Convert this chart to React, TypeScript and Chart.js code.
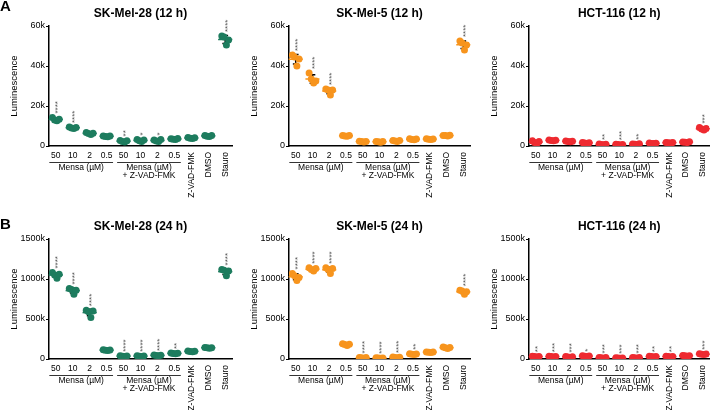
import React, { useEffect, useRef } from 'react';
import { Chart, registerables } from 'chart.js';

Chart.register(...registerables);

const FONT = "'Liberation Sans', Arial, Helvetica, sans-serif";

// ---------- categories & labels ----------
const categories = ['50', '10', '2', '0.5', '50', '10', '2', '0.5', 'Z-VAD-FMK', 'DMSO', 'Stauro'];
const groupLabels = ['Mensa (µM)', 'Mensa (µM)'];
const groupSubLabels = ['', '+ Z-VAD-FMK'];
const groupRanges = [[0, 3], [4, 7]];
const firstRotated = 8;
const yAxisTitle = 'Luminescence';

const yTicks12h = [0, 20000, 40000, 60000];
const yTickLabels12h = ['0', '20k', '40k', '60k'];
const yTicks24h = [0, 500000, 1000000, 1500000];
const yTickLabels24h = ['0', '500k', '1000k', '1500k'];

// ---------- replicate values (per category) ----------
const skMel28_12h = [
  [14200, 13000, 12600, 13400],
  [9500, 9000, 8800, 9200],
  [6800, 6200, 5800, 6400],
  [5000, 4800, 4600, 5000],
  [2800, 2200, 2000, 2600],
  [3200, 2600, 2300, 3000],
  [3000, 2500, 2200, 3300],
  [3600, 3400, 3300, 3700],
  [4200, 3900, 3800, 4100],
  [5300, 4900, 4700, 5200],
  [55000, 54500, 50500, 53000],
];
const skMel28_12h_stars = ['****', '****', '', '', '**', '*', '*', '', '', '', '****'];

const skMel5_12h = [
  [45500, 44500, 40000, 43500],
  [36500, 33500, 31500, 32500],
  [28500, 28000, 25500, 28000],
  [5300, 5000, 4900, 5200],
  [2400, 2200, 2000, 2300],
  [2300, 2100, 1900, 2200],
  [2700, 2500, 2300, 2800],
  [3600, 3300, 3100, 3500],
  [3600, 3400, 3200, 3500],
  [5300, 5200, 5000, 5400],
  [52500, 51500, 48000, 50500],
];
const skMel5_12h_stars = ['****', '****', '****', '', '', '', '', '', '', '', '****'];

const hct116_12h = [
  [2600, 1800, 1200, 2200],
  [3000, 2800, 2600, 2900],
  [2500, 2300, 2100, 2400],
  [1700, 1500, 1300, 1600],
  [1000, 800, 600, 900],
  [900, 700, 500, 800],
  [1000, 900, 700, 1100],
  [1500, 1300, 1200, 1400],
  [1800, 1600, 1500, 1700],
  [2000, 1900, 1700, 2100],
  [9200, 8500, 8000, 8800],
];
const hct116_12h_stars = ['', '', '', '', '**', '***', '**', '', '', '', '***'];

const skMel28_24h = [
  [1080000, 1050000, 1010000, 1060000],
  [880000, 870000, 810000, 860000],
  [610000, 590000, 520000, 600000],
  [115000, 110000, 105000, 112000],
  [40000, 35000, 30000, 38000],
  [40000, 35000, 30000, 38000],
  [50000, 45000, 40000, 48000],
  [75000, 70000, 65000, 72000],
  [100000, 95000, 90000, 97000],
  [145000, 140000, 135000, 142000],
  [1120000, 1110000, 1040000, 1100000],
];
const skMel28_24h_stars = ['****', '****', '****', '', '****', '****', '****', '**', '', '', '****'];

const skMel5_24h = [
  [1070000, 1040000, 980000, 1020000],
  [1140000, 1120000, 1100000, 1130000],
  [1140000, 1120000, 1070000, 1130000],
  [190000, 180000, 170000, 185000],
  [20000, 15000, 10000, 18000],
  [15000, 12000, 8000, 14000],
  [25000, 20000, 15000, 22000],
  [65000, 60000, 55000, 62000],
  [88000, 85000, 82000, 86000],
  [150000, 140000, 130000, 145000],
  [860000, 850000, 810000, 840000],
];
const skMel5_24h_stars = ['****', '****', '****', '', '****', '****', '****', '**', '', '', '****'];

const hct116_24h = [
  [35000, 30000, 25000, 32000],
  [35000, 30000, 25000, 32000],
  [30000, 25000, 20000, 28000],
  [40000, 35000, 30000, 38000],
  [20000, 15000, 10000, 18000],
  [15000, 12000, 8000, 14000],
  [20000, 15000, 10000, 18000],
  [35000, 30000, 25000, 32000],
  [35000, 30000, 25000, 32000],
  [45000, 40000, 35000, 42000],
  [65000, 60000, 55000, 62000],
];
const hct116_24h_stars = ['**', '***', '***', '*', '***', '***', '***', '**', '**', '', '***'];

// ---------- styling ----------
const GREEN = '#1d7c5e';
const ORANGE = '#f7941d';
const RED = '#ee2a30';
const JITTER = [-0.2, -0.07, 0.07, 0.2];

const mean = (a: number[]) => a.reduce((s, v) => s + v, 0) / a.length;
const stdev = (a: number[]) => {
  const m = mean(a);
  return Math.sqrt(a.reduce((s, v) => s + (v - m) * (v - m), 0) / (a.length - 1));
};

type PanelProps = {
  title: string;
  values: number[][];
  stars: string[];
  color: string;
  yTicks: number[];
  yTickLabels: string[];
  letter?: string;
  letterY?: number;
  left: number;
  top: number;
  width: number;
  height: number;
  padTop: number;
  padBottom: number;
  padRight: number;
};

function Panel(p: PanelProps) {
  const ref = useRef<HTMLCanvasElement>(null);
  useEffect(() => {
    const canvas = ref.current!;
    const points: { x: number; y: number }[] = [];
    p.values.forEach((reps, i) => reps.forEach((v, j) => points.push({ x: i + JITTER[j % JITTER.length], y: v })));

    const decor = {
      id: 'decor',
      beforeDatasetsDraw(chart: any) {
        const ctx = chart.ctx;
        const xs = chart.scales.x;
        const ys = chart.scales.y;
        const u = xs.getPixelForValue(1) - xs.getPixelForValue(0);
        p.values.forEach((reps, i) => {
          const m = mean(reps);
          const sd = stdev(reps);
          const cx = xs.getPixelForValue(i);
          const ym = ys.getPixelForValue(m);
          const yHi = ys.getPixelForValue(m + sd);
          const yLo = ys.getPixelForValue(Math.max(0, m - sd));
          ctx.save();
          ctx.lineWidth = 1.5;
          ctx.strokeStyle = p.color;
          ctx.beginPath();
          ctx.moveTo(cx - 0.42 * u, ym);
          ctx.lineTo(cx + 0.42 * u, ym);
          ctx.stroke();
          ctx.strokeStyle = '#000';
          ctx.beginPath();
          ctx.moveTo(cx, yHi);
          ctx.lineTo(cx, yLo);
          ctx.moveTo(cx - 0.17 * u, yHi);
          ctx.lineTo(cx + 0.17 * u, yHi);
          ctx.moveTo(cx - 0.17 * u, yLo);
          ctx.lineTo(cx + 0.17 * u, yLo);
          ctx.stroke();
          ctx.restore();
        });
      },
      afterDraw(chart: any) {
        const ctx = chart.ctx;
        const xs = chart.scales.x;
        const ys = chart.scales.y;
        const area = chart.chartArea;
        const u = xs.getPixelForValue(1) - xs.getPixelForValue(0);
        ctx.save();
        ctx.fillStyle = '#000';
        ctx.strokeStyle = '#000';

        // stars
        p.values.forEach((reps, i) => {
          const s = p.stars[i];
          if (!s) return;
          const m = mean(reps);
          const sd = stdev(reps);
          const topVal = Math.max(Math.max(...reps), m + sd);
          const yTop = Math.min(ys.getPixelForValue(topVal) - 3, ys.getPixelForValue(Math.max(...reps)) - 4);
          const cx = xs.getPixelForValue(i);
          const fs = 8;
          ctx.save();
          ctx.fillStyle = '#555';
          ctx.font = `${fs}px ${FONT}`;
          ctx.translate(cx, yTop);
          ctx.rotate(-Math.PI / 2);
          ctx.textAlign = 'left';
          ctx.textBaseline = 'alphabetic';
          ctx.fillText(s, 0, fs * 0.58);
          ctx.restore();
        });

        // title
        ctx.font = `bold 12px ${FONT}`;
        ctx.textAlign = 'center';
        ctx.textBaseline = 'middle';
        ctx.fillText(p.title, (area.left + area.right) / 2, area.top - 12);

        // panel letter
        if (p.letter) {
          ctx.font = `bold 15px ${FONT}`;
          ctx.textAlign = 'left';
          ctx.textBaseline = 'top';
          ctx.fillText(p.letter, 0, p.letterY ?? 0);
        }

        // y axis title
        ctx.save();
        ctx.font = `9.5px ${FONT}`;
        ctx.translate(area.left - 35, (area.top + area.bottom) / 2);
        ctx.rotate(-Math.PI / 2);
        ctx.textAlign = 'center';
        ctx.textBaseline = 'middle';
        ctx.fillText(yAxisTitle, 0, 0);
        ctx.restore();

        // x category labels
        const b = area.bottom;
        ctx.font = `8.5px ${FONT}`;
        categories.forEach((c, i) => {
          const cx = xs.getPixelForValue(i);
          if (i < firstRotated) {
            ctx.textAlign = 'center';
            ctx.textBaseline = 'middle';
            ctx.fillText(c, cx, b + 10);
          } else {
            ctx.save();
            ctx.translate(cx, b + 6);
            ctx.rotate(-Math.PI / 2);
            ctx.textAlign = 'right';
            ctx.textBaseline = 'middle';
            ctx.fillText(c, 0, 0);
            ctx.restore();
          }
        });

        // group brackets
        groupRanges.forEach((r, g) => {
          const x0 = xs.getPixelForValue(r[0]) - 0.38 * u;
          const x1 = xs.getPixelForValue(r[1]) + 0.38 * u;
          ctx.lineWidth = 0.8;
          ctx.beginPath();
          ctx.moveTo(x0, b + 16.5);
          ctx.lineTo(x1, b + 16.5);
          ctx.stroke();
          const mid = (x0 + x1) / 2;
          ctx.textAlign = 'center';
          ctx.textBaseline = 'middle';
          ctx.fillText(groupLabels[g], mid, b + 21.5);
          if (groupSubLabels[g]) ctx.fillText(groupSubLabels[g], mid, b + 29.5);
        });
        ctx.restore();
      },
    };

    const chart = new Chart(canvas, {
      type: 'scatter',
      data: {
        datasets: [
          {
            data: points,
            backgroundColor: p.color,
            borderColor: p.color,
            borderWidth: 0,
            pointRadius: 3.5,
            pointHoverRadius: 3.5,
          },
        ],
      },
      options: {
        animation: false,
        responsive: false,
        devicePixelRatio: 1,
        events: [],
        layout: { padding: { top: p.padTop, bottom: p.padBottom, left: 0, right: p.padRight } },
        plugins: { legend: { display: false }, tooltip: { enabled: false }, title: { display: false } },
        scales: {
          x: {
            type: 'linear',
            min: -0.4,
            max: 10.4,
            ticks: { display: false },
            grid: { display: false, drawTicks: false },
            border: { display: true, color: '#000', width: 1.5 },
            afterFit: (s: any) => {
              s.height = 0;
            },
          },
          y: {
            min: 0,
            max: p.yTicks[p.yTicks.length - 1],
            afterBuildTicks: (s: any) => {
              s.ticks = p.yTicks.map((v) => ({ value: v }));
            },
            ticks: {
              font: { size: 9, family: FONT },
              color: '#000',
              padding: 1,
              callback: (_v: any, idx: number) => p.yTickLabels[idx],
            },
            grid: { display: true, drawOnChartArea: false, drawTicks: true, tickLength: 3, color: '#000', lineWidth: 1 },
            border: { display: true, color: '#000', width: 1.5 },
            afterFit: (s: any) => {
              s.width = 49;
            },
          },
        },
      } as any,
      plugins: [decor],
    });
    return () => chart.destroy();
  }, []);
  return (
    <div style={{ position: 'absolute', left: p.left, top: p.top, width: p.width, height: p.height }}>
      <canvas ref={ref} width={p.width} height={p.height} />
    </div>
  );
}

export default function App() {
  const rowA = { top: 0, height: 200, padTop: 26, padBottom: 54 };
  const rowB = { top: 200, height: 210, padTop: 39, padBottom: 51 };
  const c1 = { left: 0, width: 240, padRight: 8 };
  const c2 = { left: 240, width: 240, padRight: 10 };
  const c3 = { left: 480, width: 233, padRight: 1 };
  return (
    <div style={{ position: 'fixed', left: 0, top: 0, width: 713, height: 410, background: '#fff', overflow: 'hidden' }}>
      <Panel title="SK-Mel-28 (12 h)" values={skMel28_12h} stars={skMel28_12h_stars} color={GREEN}
        yTicks={yTicks12h} yTickLabels={yTickLabels12h} letter="A" letterY={-1} {...rowA} {...c1} />
      <Panel title="SK-Mel-5 (12 h)" values={skMel5_12h} stars={skMel5_12h_stars} color={ORANGE}
        yTicks={yTicks12h} yTickLabels={yTickLabels12h} {...rowA} {...c2} />
      <Panel title="HCT-116 (12 h)" values={hct116_12h} stars={hct116_12h_stars} color={RED}
        yTicks={yTicks12h} yTickLabels={yTickLabels12h} {...rowA} {...c3} />
      <Panel title="SK-Mel-28 (24 h)" values={skMel28_24h} stars={skMel28_24h_stars} color={GREEN}
        yTicks={yTicks24h} yTickLabels={yTickLabels24h} letter="B" letterY={17} {...rowB} {...c1} />
      <Panel title="SK-Mel-5 (24 h)" values={skMel5_24h} stars={skMel5_24h_stars} color={ORANGE}
        yTicks={yTicks24h} yTickLabels={yTickLabels24h} {...rowB} {...c2} />
      <Panel title="HCT-116 (24 h)" values={hct116_24h} stars={hct116_24h_stars} color={RED}
        yTicks={yTicks24h} yTickLabels={yTickLabels24h} {...rowB} {...c3} />
    </div>
  );
}
